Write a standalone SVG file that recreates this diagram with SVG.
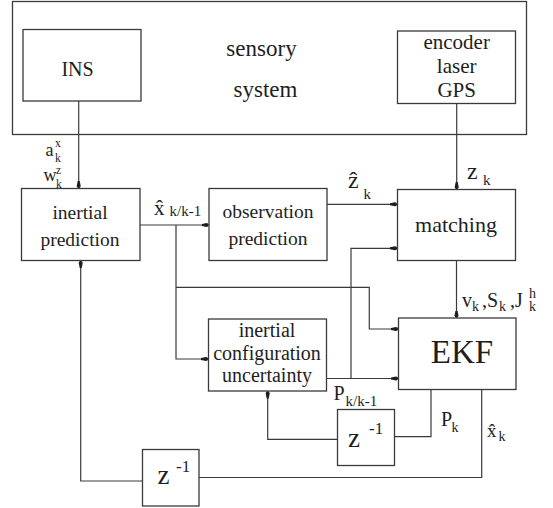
<svg xmlns="http://www.w3.org/2000/svg" width="553" height="508" viewBox="0 0 553 508" font-family="'Liberation Serif', 'DejaVu Serif', serif">
<style>
.box{fill:#fff;stroke:#3a3a3a;stroke-width:1.3}
.ln{fill:none;stroke:#3a3a3a;stroke-width:1.2}
.arr{marker-end:url(#ah)}
text{font-family:'Liberation Serif','DejaVu Serif',serif;fill:#1e1e1e}
.t{font-size:20px;text-anchor:middle}
.lab{font-size:20px}
.sub{font-size:14px}
</style>
<defs>
<marker id="ah" viewBox="0 0 8 6" refX="7.5" refY="3" markerWidth="8" markerHeight="6" markerUnits="userSpaceOnUse" orient="auto">
<path d="M0,2 L5,1 A2,2 0 0 1 5,5 L0,4 z" fill="#1e1e1e"/>
</marker>
</defs>
<rect width="553" height="508" fill="#fff"/>

<g id="sensory-system">
<rect class="box" x="12.5" y="1.5" width="514" height="133"/>
<text x="261.5" y="56" font-size="23" text-anchor="middle">sensory</text>
<text x="265.5" y="96.5" font-size="23" text-anchor="middle">system</text>
</g>

<g id="ins">
<rect class="box" x="23" y="29.5" width="118" height="71.5"/>
<text class="t" x="77.5" y="76">INS</text>
</g>

<g id="sensors">
<rect class="box" x="397.5" y="31" width="118" height="72.5"/>
<text class="t" x="456.7" y="49.3" style="font-size:21px">encoder</text>
<text class="t" x="456.7" y="72.7" style="font-size:21px">laser</text>
<text class="t" x="456.7" y="96.7" style="font-size:21px">GPS</text>
</g>

<g id="inertial-prediction">
<rect class="box" x="21.5" y="188.5" width="118.5" height="72"/>
<text class="t" x="80" y="219" style="font-size:19.5px">inertial</text>
<text class="t" x="80" y="245.5" style="font-size:19.5px">prediction</text>
</g>

<g id="observation-prediction">
<rect class="box" x="209" y="188.5" width="118" height="72"/>
<text class="t" x="268" y="217.5" style="font-size:19.5px">observation</text>
<text class="t" x="268" y="244.5" style="font-size:19.5px">prediction</text>
</g>

<g id="matching">
<rect class="box" x="397.5" y="189.5" width="118" height="71"/>
<text class="t" x="456" y="232" style="font-size:22px">matching</text>
</g>

<g id="ekf">
<rect class="box" x="398.5" y="318" width="117.5" height="71.5"/>
<text class="t" x="462" y="363" style="font-size:33px">EKF</text>
</g>

<g id="inertial-configuration-uncertainty">
<rect class="box" x="208.5" y="319" width="118" height="72"/>
<text class="t" x="267" y="336.5">inertial</text>
<text class="t" x="267" y="360">configuration</text>
<text class="t" x="267" y="382">uncertainty</text>
</g>

<g id="delay-p">
<rect class="box" x="337.5" y="409.5" width="57" height="56"/>
<text x="348" y="446.7" style="font-size:27px">z</text>
<text x="369" y="434.3" style="font-size:17px">-1</text>
</g>

<g id="delay-x">
<rect class="box" x="142.5" y="449.5" width="56.5" height="56.5"/>
<text x="157.5" y="484" style="font-size:27px">z</text>
<text x="176" y="471.7" style="font-size:17px">-1</text>
</g>

<g id="connectors">
<path class="ln arr" d="M78.7,101 V188.5"/>
<path class="ln arr" d="M456.7,103.5 V189.5"/>
<path class="ln arr" d="M140,225 H209"/>
<path class="ln arr" d="M176,225 V359 H208.5"/>
<path class="ln arr" d="M176,287.3 H369.3 V329 H398.5"/>
<path class="ln arr" d="M327,204.3 H397.5"/>
<path class="ln arr" d="M326.5,378.5 H398.5"/>
<path class="ln arr" d="M351,378.5 V248.3 H397.5"/>
<path class="ln arr" d="M456.5,260.5 V318"/>
<path class="ln" d="M431,389.5 V436.7 H394.5"/>
<path class="ln arr" d="M337.5,439.3 H267.7 V391"/>
<path class="ln" d="M481.7,389.5 V477.5 H199"/>
<path class="ln arr" d="M142.5,481 H80.7 V260.5"/>
</g>

<g id="labels">
<text x="45.5" y="156" style="font-size:18px">a</text>
<text x="55" y="147" style="font-size:11.5px">x</text>
<text x="55" y="162" style="font-size:11.5px">k</text>
<text x="43.5" y="181" style="font-size:18px">w</text>
<text x="56" y="173.5" style="font-size:11.5px">z</text>
<text x="56" y="187.5" style="font-size:11.5px">k</text>

<text x="154" y="215" style="font-size:21px">x̂</text>
<text x="169.5" y="216" style="font-size:15px">k/k-1</text>

<text x="348" y="188" style="font-size:24px">ẑ</text>
<text x="363.5" y="199" style="font-size:15px">k</text>

<text x="467" y="179" style="font-size:24px">z</text>
<text x="483" y="184.5" style="font-size:15px">k</text>

<text x="462" y="306.5" class="lab">v</text>
<text x="472" y="311" class="sub">k</text>
<text x="482" y="306.5" class="lab">,S</text>
<text x="499" y="311" class="sub">k</text>
<text x="510" y="306.5" class="lab">,J</text>
<text x="529" y="297.5" class="sub">h</text>
<text x="529" y="311" class="sub">k</text>

<text x="333.5" y="400" class="lab">P</text>
<text x="345.5" y="406" style="font-size:15px">k/k-1</text>

<text x="441" y="426" class="lab">P</text>
<text x="451.5" y="432" class="sub">k</text>

<text x="487" y="436.7" style="font-size:19px">x̂</text>
<text x="498.5" y="440.5" class="sub">k</text>
</g>
</svg>
